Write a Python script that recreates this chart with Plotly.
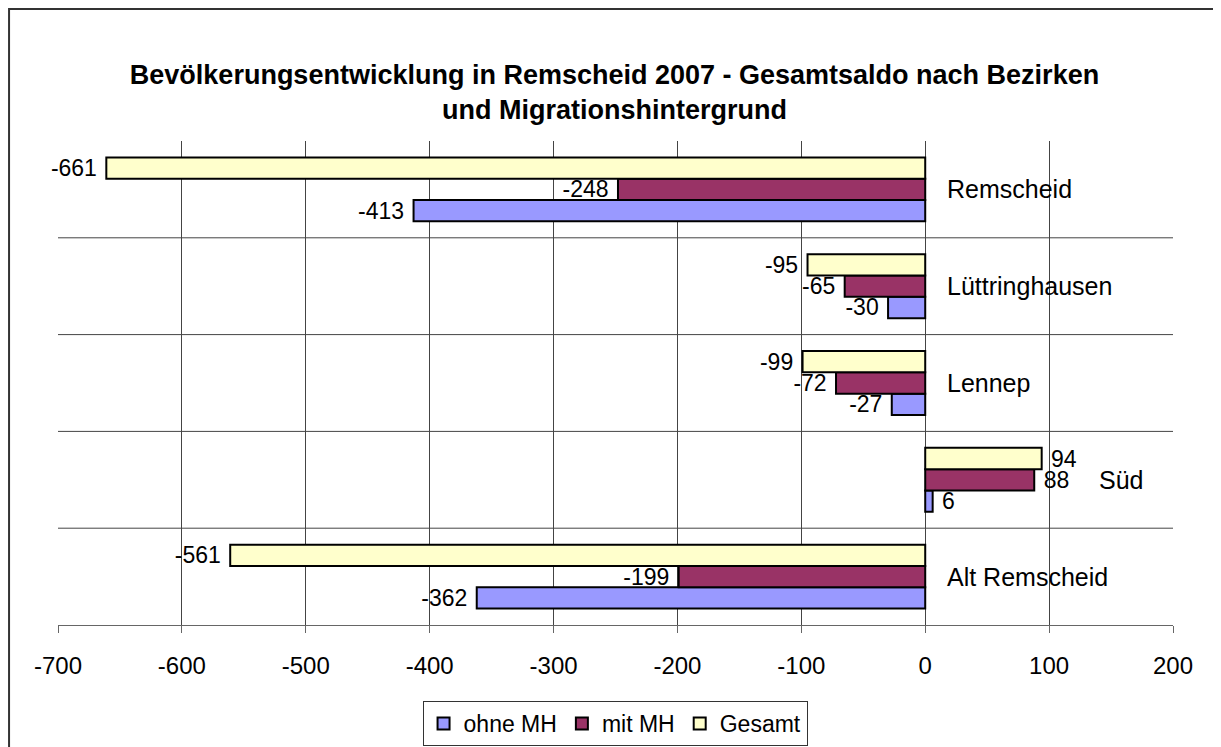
import plotly.graph_objects as go

# Bezirke (unten -> oben)
bezirke = ["Alt Remscheid", "Süd", "Lennep", "Lüttringhausen", "Remscheid"]
ohne_mh = [-362, 6, -27, -30, -413]
mit_mh = [-199, 88, -72, -65, -248]
gesamt = [-561, 94, -99, -95, -661]
x_ticks = [-700, -600, -500, -400, -300, -200, -100, 0, 100, 200]

font_family = "Liberation Sans, Arial, sans-serif"
nbsp = "\u00a0"

fig = go.Figure()

for name, vals, color in [("ohne MH", ohne_mh, "#9999FF"),
                          ("mit MH", mit_mh, "#993366"),
                          ("Gesamt", gesamt, "#FFFFCC")]:
    fig.add_trace(go.Bar(
        y=bezirke,
        x=vals,
        name=name,
        orientation="h",
        marker=dict(color=color, line=dict(color="black", width=2)),
        text=[f"{v}{nbsp}" if v < 0 else f"{nbsp}{v}" for v in vals],
        textposition="outside",
        textfont=dict(size=23, color="black", family=font_family),
        constraintext="none",
        cliponaxis=False,
    ))

# separators between the districts
for i in range(len(bezirke) - 1):
    fig.add_shape(type="line", xref="paper", x0=0, x1=1, yref="y",
                  y0=i + 0.5, y1=i + 0.5, line=dict(color="#444", width=1),
                  layer="below")

# district labels right of the zero line (behind positive bars + labels)
for b, v1, v2, v3 in zip(bezirke, ohne_mh, mit_mh, gesamt):
    top = max(0, v1, v2, v3)
    fig.add_annotation(x=top, y=b, xref="x", yref="y", text=b, showarrow=False,
                       xanchor="left", xshift=20 if top == 0 else 55,
                       font=dict(size=25, color="black", family=font_family))

# outer chart border (right/bottom edges run off the page)
fig.add_shape(type="rect", xref="paper", yref="paper",
              x0=-0.0439, x1=1.1, y0=-0.4, y1=1.2727,
              line=dict(color="#333", width=2), fillcolor="rgba(0,0,0,0)")

fig.update_layout(
    width=1213, height=739,
    margin=dict(l=50, r=48, t=133, b=122, autoexpand=False),
    paper_bgcolor="white", plot_bgcolor="white",
    font=dict(family=font_family, size=24, color="black"),
    title=dict(
        text="Bevölkerungsentwicklung in Remscheid 2007 - Gesamtsaldo nach Bezirken<br>und Migrationshintergrund",
        x=0.5, xanchor="center", y=1 - 76 / 739, yanchor="middle",
        font=dict(size=27, family=font_family, color="black", weight="bold"),
    ),
    barmode="group", bargap=0.34, bargroupgap=0,
    xaxis=dict(
        range=[-700, 200], tickvals=x_ticks, ticktext=[str(t) for t in x_ticks],
        showgrid=True, gridcolor="#444", gridwidth=1, zeroline=False,
        showline=True, linecolor="#666", linewidth=1,
        ticks="outside", ticklen=7, tickcolor="#666",
        ticklabelstandoff=12, tickfont=dict(size=24),
    ),
    yaxis=dict(
        showticklabels=False, showgrid=False, zeroline=False, showline=False,
        range=[-0.5, len(bezirke) - 0.5],
    ),
    legend=dict(
        orientation="h", x=0.4996, xanchor="center", y=-0.157, yanchor="top",
        bordercolor="#333", borderwidth=1, font=dict(size=23),
        itemwidth=30, tracegroupgap=0,
    ),
)

fig.write_html("out.html")
